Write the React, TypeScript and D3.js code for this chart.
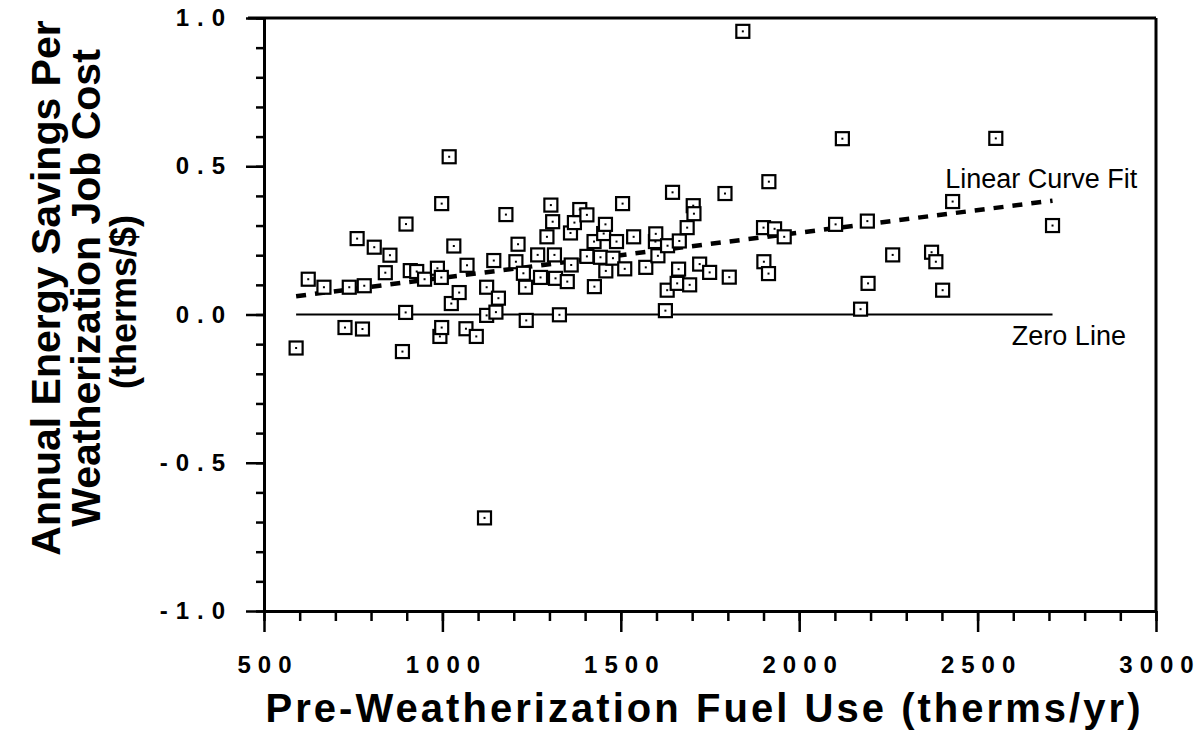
import * as d3 from "d3";
import { useEffect, useRef } from "react";

// pre-weatherization fuel use (therms/yr) and savings per job cost (therms/$)
const fuelUse = [
  590, 624, 668, 727, 739, 761, 776, 781, 809, 840, 853, 888, 897, 898, 910, 928, 950, 986, 993, 997,
  998, 998, 1019, 1025, 1032, 1047, 1066, 1069, 1095, 1118, 1124, 1124, 1144, 1150, 1157, 1178, 1206, 1212, 1227, 1233,
  1235, 1267, 1275, 1293, 1304, 1309, 1314, 1317, 1328, 1350, 1359, 1361, 1370, 1385, 1405, 1405, 1425, 1426, 1443, 1452,
  1457, 1458, 1478, 1488, 1505, 1511, 1536, 1570, 1597, 1598, 1604, 1625, 1630, 1631, 1645, 1658, 1662, 1664, 1686, 1693,
  1703, 1705, 1721, 1749, 1792, 1804, 1842, 1900, 1901, 1914, 1915, 1931, 1958, 2102, 2121, 2172, 2191, 2193, 2262, 2371,
  2383, 2402, 2430, 2551, 2710,
];
const savings = [
  -0.113, 0.119, 0.092, -0.044, 0.092, 0.256, -0.049, 0.097, 0.227, 0.141, 0.2, -0.125, 0.007, 0.305, 0.148, 0.145, 0.119, 0.156, -0.074, 0.125,
  0.374, -0.044, 0.532, 0.037, 0.231, 0.074, -0.048, 0.166, -0.074, -0.686, 0.092, -0.003, 0.182, 0.008, 0.055, 0.337, 0.178, 0.237, 0.139, 0.092,
  -0.02, 0.201, 0.125, 0.262, 0.369, 0.313, 0.201, 0.122, -0.001, 0.111, 0.275, 0.167, 0.31, 0.354, 0.336, 0.196, 0.246, 0.094, 0.193, 0.273,
  0.304, 0.147, 0.19, 0.246, 0.374, 0.154, 0.262, 0.159, 0.246, 0.272, 0.198, 0.013, 0.082, 0.232, 0.412, 0.105, 0.153, 0.248, 0.293, 0.1,
  0.367, 0.34, 0.17, 0.142, 0.408, 0.126, 0.955, 0.293, 0.178, 0.138, 0.448, 0.289, 0.262, 0.304, 0.593, 0.018, 0.315, 0.105, 0.201, 0.21,
  0.178, 0.082, 0.381, 0.594, 0.3,
];

const xMajorTicks = [500, 1000, 1500, 2000, 2500, 3000];
const yMajorTicks = [-1.0, -0.5, 0.0, 0.5, 1.0];

// linear fit drawn in the figure
const fitIntercept = -0.028;
const fitSlope = 0.000152;

const yTitleLines = ["Annual Energy Savings Per", "Weatherization Job Cost", "(therms/$)"];
const xTitle = "Pre-Weatherization  Fuel  Use  (therms/yr)";

const width = 1199, height = 745;
const font = "'Liberation Sans', Arial, Helvetica, sans-serif";

export default function App() {
  const ref = useRef<SVGSVGElement>(null);

  useEffect(() => {
    const svg = d3.select(ref.current);
    svg.selectAll("*").remove();

    const x = d3.scaleLinear().domain([500, 3000]).range([264, 1156]);
    const y = d3.scaleLinear().domain([-1, 1]).range([611, 18]);

    const ls = 7; // wide letter spacing of tick labels

    // minor ticks
    svg.append("g")
      .attr("transform", `translate(0,${y(-1)})`)
      .call(d3.axisBottom(x).tickValues(d3.range(500, 3001, 100)).tickSize(10).tickSizeOuter(0).tickFormat(() => ""))
      .call(g => g.select(".domain").remove());
    svg.append("g")
      .attr("transform", `translate(${x(500)},0)`)
      .call(d3.axisLeft(y).tickValues(d3.range(-10, 11).map(d => d / 10)).tickSize(8).tickSizeOuter(0).tickFormat(() => ""))
      .call(g => g.select(".domain").remove());

    // major ticks + labels
    const gx = svg.append("g")
      .attr("transform", `translate(0,${y(-1)})`)
      .call(d3.axisBottom(x).tickValues(xMajorTicks).tickSize(21).tickSizeOuter(0).tickPadding(24).tickFormat(d => String(d)));
    gx.selectAll("text").attr("dx", ls / 2).attr("letter-spacing", ls);

    const gy = svg.append("g")
      .attr("transform", `translate(${x(500)},0)`)
      .call(d3.axisLeft(y).tickValues(yMajorTicks).tickSize(18).tickSizeOuter(0).tickPadding(20).tickFormat(d => (+d).toFixed(1)));
    gy.selectAll("text").attr("dx", ls).attr("letter-spacing", ls + 1);

    svg.selectAll(".tick line").attr("stroke", "#000").attr("stroke-width", 2.5);
    svg.selectAll(".domain").attr("stroke", "#000").attr("stroke-width", 3);
    svg.selectAll(".tick text")
      .attr("fill", "#000")
      .attr("font-family", font)
      .attr("font-weight", "bold")
      .attr("font-size", 24);

    // top and right frame
    svg.append("line").attr("x1", x(500) - 16).attr("x2", x(3000)).attr("y1", y(1)).attr("y2", y(1))
      .attr("stroke", "#000").attr("stroke-width", 3);
    svg.append("line").attr("x1", x(3000)).attr("x2", x(3000)).attr("y1", y(1)).attr("y2", y(-1))
      .attr("stroke", "#000").attr("stroke-width", 3);

    const [xMin, xMax] = d3.extent(fuelUse) as [number, number];

    // zero line
    svg.append("line")
      .attr("x1", x(xMin)).attr("x2", x(xMax)).attr("y1", y(0)).attr("y2", y(0))
      .attr("stroke", "#000").attr("stroke-width", 2);

    // linear fit
    const fit = d3.line<number>().x(d => x(d)).y(d => y(fitIntercept + fitSlope * d));
    svg.append("path")
      .attr("d", fit([xMin, xMax]))
      .attr("fill", "none")
      .attr("stroke", "#000")
      .attr("stroke-width", 4.5)
      .attr("stroke-dasharray", "10 9");

    // points
    const pts = svg.append("g").selectAll("g").data(fuelUse).enter().append("g")
      .attr("transform", (d, i) => `translate(${x(d)},${y(savings[i])})`);
    pts.append("rect")
      .attr("x", -6.5).attr("y", -6.5).attr("width", 13).attr("height", 13)
      .attr("fill", "#fff").attr("stroke", "#000").attr("stroke-width", 2.2);
    pts.append("rect")
      .attr("x", -1).attr("y", -1).attr("width", 2).attr("height", 2).attr("fill", "#000");

    // annotations
    svg.append("text").attr("x", x(2409)).attr("y", y(0.427))
      .attr("font-family", font).attr("font-size", 27).text("Linear Curve Fit");
    svg.append("text").attr("x", x(2596)).attr("y", y(-0.103))
      .attr("font-family", font).attr("font-size", 27).text("Zero Line");

    // axis titles
    svg.append("text")
      .attr("x", 703).attr("y", 722)
      .attr("text-anchor", "middle")
      .attr("font-family", font).attr("font-weight", "bold").attr("font-size", 40)
      .attr("textLength", 875).attr("lengthAdjust", "spacing")
      .text(xTitle);

    const yTitle = svg.append("g").attr("transform", "translate(0,288) rotate(-90)");
    const lineX = [60, 100, 136];
    const lineSize = [41, 41, 36];
    yTitleLines.forEach((t, i) => {
      yTitle.append("text")
        .attr("x", i === 2 ? -14 : 0).attr("y", lineX[i])
        .attr("text-anchor", "middle")
        .attr("font-family", font).attr("font-weight", "bold").attr("font-size", lineSize[i])
        .text(t);
    });
  }, []);

  return (
    <svg ref={ref} width={width} height={height}
      style={{ position: "absolute", left: 0, top: 0, background: "#fff" }} />
  );
}
